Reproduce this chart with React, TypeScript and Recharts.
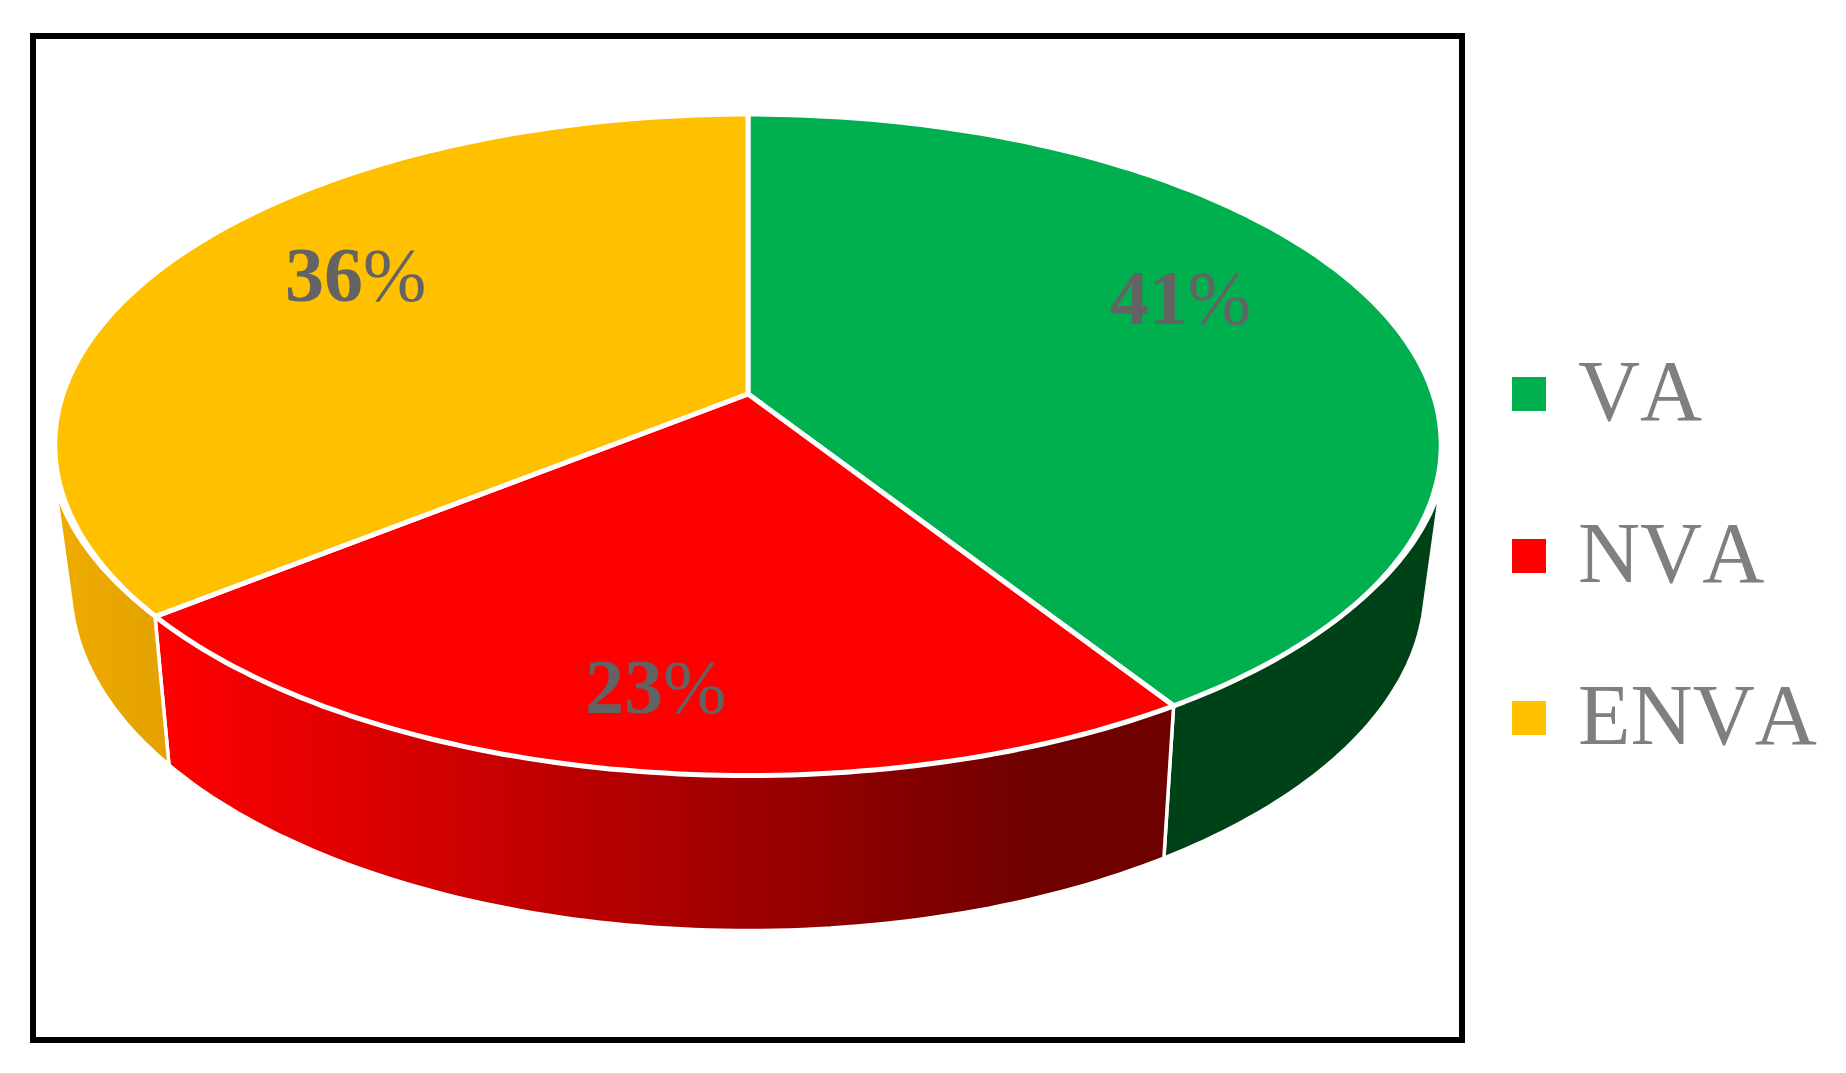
import { PieChart, Pie, Legend, Cell } from 'recharts';

const categories = ['VA', 'NVA', 'ENVA'];
const shares = [40.9, 23.4, 35.7];
const topColors = ['#00b04f', '#ff0000', '#ffc000'];

const data = categories.map((name, i) => ({ name, value: shares[i] }));

// horizontal shading of the rim, one [x, colour] list per slice
const rimStops: [number, string][][] = [
  [[1170, '#004217'], [1440, '#004217']],
  [[158, '#ff0000'], [1040, '#6e0000'], [1175, '#700000']],
  [[60, '#eeac00'], [165, '#e4a100']],
];

// perspective of the disc
const TILT = 0.1536;
const SQUASH = 0.4714;
const RIM_DEPTH = 155;
const RIM_SCALE = 0.977;
const RIM_SLOPE = 0.04;
const BOTTOM_Y = 775;
const RIM_FLARE = 0.007;
const UPPER_T = 0.27; // rim starts this far round the near side
const LOWER_T = 0.22;

const labelNudge = [
  { dx: 17, dy: -12 },
  { dx: -12, dy: 89 },
  { dx: -8, dy: -6 },
];

function project(cx: number, cy: number, r: number, deg: number, rho = 1) {
  const u = Math.cos((deg * Math.PI) / 180);
  const v = Math.sin((deg * Math.PI) / 180);
  const w = 1 + TILT * rho * v;
  return { x: cx + (r * rho * u) / w, y: cy - (SQUASH * r * rho * v) / w };
}

function sweep(from: number, to: number) {
  const n = Math.max(2, Math.ceil(Math.abs(to - from)));
  return Array.from({ length: n + 1 }, (_, i) => from + ((to - from) * i) / n);
}

const toPath = (pts: { x: number; y: number }[]) =>
  pts.map((p, i) => `${i ? 'L' : 'M'}${p.x.toFixed(1)},${p.y.toFixed(1)}`).join(' ') + ' Z';

function Slab(props: any) {
  const { cx, cy, outerRadius, startAngle, endAngle, fill, index } = props;
  const top = sweep(startAngle, endAngle).map((a) => project(cx, cy, outerRadius, a));

  // part of the slice edge that faces the viewer
  const edge = (t: number) => {
    const a = (Math.asin(t) * 180) / Math.PI;
    return [Math.min(startAngle, -a), Math.max(endAngle, -180 + a)];
  };
  const [upHi, upLo] = edge(UPPER_T);
  const [lowHi, lowLo] = edge(LOWER_T);
  let wall = '';
  if (upHi > upLo) {
    const upper = sweep(upHi, upLo).map((a) => {
      const p = project(cx, cy, outerRadius, a);
      // the rim sticks out a little only near the sides of the disc
      const side = Math.max(0, (Math.abs(p.x - cx) / outerRadius - 0.85) / 0.15);
      return { x: cx + (1 + RIM_FLARE * side) * (p.x - cx), y: p.y };
    });
    const lower = sweep(lowLo, lowHi).map((a) => {
      const p = project(cx, cy, outerRadius, a);
      return {
        x: cx + RIM_SCALE * (p.x - cx),
        y: p.y + RIM_DEPTH + RIM_SLOPE * (p.y - BOTTOM_Y),
      };
    });
    wall = toPath([...upper, ...lower]);
  }

  return (
    <g>
      {wall && <path d={wall} fill={`url(#rim${index})`} stroke="#fff" strokeWidth={3.5} strokeLinejoin="round" />}
      <path d={toPath([{ x: cx, y: cy }, ...top])} fill={fill} stroke="#fff" strokeWidth={5} strokeLinejoin="round" />
    </g>
  );
}

function PercentLabel(props: any) {
  const { cx, cy, outerRadius, midAngle, value, index } = props;
  const p = project(cx, cy, outerRadius, midAngle, 0.65);
  return (
    <text
      x={p.x + labelNudge[index].dx}
      y={p.y + labelNudge[index].dy}
      textAnchor="middle"
      fontFamily="Liberation Serif"
      fill="#636363"
    >
      <tspan fontWeight={700} fontSize={78}>{String(Math.round(value))}</tspan>
      <tspan fontWeight={400} fontSize={76}>%</tspan>
    </text>
  );
}

function LegendList({ payload }: any) {
  return (
    <div>
      {(payload || []).map((item: any) => (
        <div key={item.value} style={{ height: 162, display: 'flex', alignItems: 'center' }}>
          <span style={{ width: 34, height: 34, background: item.color, marginRight: 32 }} />
          <span
            style={{
              position: 'relative',
              top: -3,
              fontFamily: 'Liberation Serif',
              fontSize: 86,
              fontKerning: 'none',
              color: '#7f7f7f',
              lineHeight: '86px',
            }}
          >
            {item.value}
          </span>
        </div>
      ))}
    </div>
  );
}

export default function App() {
  return (
    <div style={{ position: 'absolute', left: 0, top: 0, width: 1846, height: 1073, background: '#fff' }}>
      <div
        style={{
          position: 'absolute',
          left: 30,
          top: 33,
          width: 1423,
          height: 998,
          border: '6px solid #000',
        }}
      />
      <PieChart width={1846} height={1073} margin={{ top: 0, right: 0, bottom: 0, left: 0 }}>
        <defs>
          {rimStops.map((stops, i) => {
            const x1 = stops[0][0];
            const x2 = stops[stops.length - 1][0];
            return (
              <linearGradient key={i} id={`rim${i}`} gradientUnits="userSpaceOnUse" x1={x1} x2={x2} y1={0} y2={0}>
                {stops.map(([x, c]) => (
                  <stop key={x} offset={(x - x1) / (x2 - x1)} stopColor={c} />
                ))}
              </linearGradient>
            );
          })}
        </defs>
        <Pie
          data={data}
          dataKey="value"
          nameKey="name"
          cx={748}
          cy={394}
          outerRadius={685}
          startAngle={90}
          endAngle={-270}
          paddingAngle={0}
          shape={Slab}
          label={PercentLabel}
          labelLine={false}
          isAnimationActive={false}
        >
          {data.map((d, i) => (
            <Cell key={d.name} fill={topColors[i]} />
          ))}
        </Pie>
        <Legend
          layout="vertical"
          align="right"
          verticalAlign="top"
          itemSorter={null}
          content={LegendList}
          wrapperStyle={{ left: 1512, top: 313, width: 334 }}
        />
      </PieChart>
    </div>
  );
}
